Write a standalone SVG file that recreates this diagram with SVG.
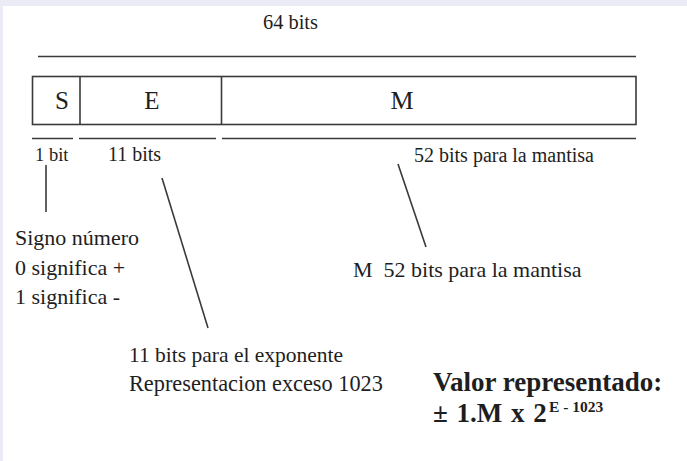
<svg xmlns="http://www.w3.org/2000/svg" width="687" height="461" viewBox="0 0 687 461">
<style>
.ln{stroke:#3a3a3a;stroke-width:1.6;fill:none}
</style>
<rect x="0" y="0" width="687" height="461" fill="#ffffff"/>
<rect x="0" y="0" width="687" height="6" fill="#ebebf5"/>
<rect x="0" y="0" width="3" height="461" fill="#ebebf5"/>
<g id="title"><text x="263" y="29" font-family="'Liberation Serif'" font-size="20.4" fill="#1e1e1e">64 bits</text></g>
<g id="word">
<rect class="ln" x="32.5" y="76.5" width="603.5" height="48"/>
<line class="ln" x1="80" y1="76.5" x2="80" y2="124.5"/>
<line class="ln" x1="221.5" y1="76.5" x2="221.5" y2="124.5"/>
</g>
<g id="field-S"><text x="62" y="108.5" font-family="'Liberation Serif'" font-size="25" fill="#1e1e1e" text-anchor="middle">S</text></g>
<g id="field-E"><text x="152" y="108.5" font-family="'Liberation Serif'" font-size="25" fill="#1e1e1e" text-anchor="middle">E</text></g>
<g id="field-M"><text x="402" y="108.5" font-family="'Liberation Serif'" font-size="26" fill="#1e1e1e" text-anchor="middle">M</text></g>
<g id="connectors">
<line class="ln" x1="38" y1="56.5" x2="636" y2="56.5"/>
<line class="ln" x1="32" y1="138.5" x2="73" y2="138.5"/>
<line class="ln" x1="79" y1="138.5" x2="216" y2="138.5"/>
<line class="ln" x1="222" y1="138.5" x2="636" y2="138.5"/>
<line class="ln" x1="46" y1="165" x2="46" y2="212"/>
<line class="ln" x1="162" y1="178" x2="208" y2="328"/>
<line class="ln" x1="398" y1="164" x2="426" y2="247"/>
</g>
<g id="lbl-1bit"><text x="35" y="161" font-family="'Liberation Serif'" font-size="18.5" fill="#1e1e1e">1 bit</text></g>
<g id="lbl-11bits"><text x="108" y="161" font-family="'Liberation Serif'" font-size="20" fill="#1e1e1e">11 bits</text></g>
<g id="lbl-52bits"><text x="414" y="161.5" font-family="'Liberation Serif'" font-size="20" fill="#1e1e1e">52 bits para la mantisa</text></g>
<g id="sign-desc">
<text x="15" y="245" font-family="'Liberation Serif'" font-size="22" fill="#1e1e1e">Signo número</text>
<text x="15" y="275" font-family="'Liberation Serif'" font-size="22" fill="#1e1e1e">0 significa +</text>
<text x="15" y="304" font-family="'Liberation Serif'" font-size="22" fill="#1e1e1e">1 significa -</text>
</g>
<g id="mant-desc"><text x="353" y="277" font-family="'Liberation Serif'" font-size="22" fill="#1e1e1e" xml:space="preserve">M  52 bits para la mantisa</text></g>
<g id="exp-desc">
<text x="129" y="362" font-family="'Liberation Serif'" font-size="21.5" fill="#1e1e1e">11 bits para el exponente</text>
<text x="129" y="391" font-family="'Liberation Serif'" font-size="22.3" fill="#1e1e1e">Representacion exceso 1023</text>
</g>
<g id="value">
<text x="433" y="391" font-family="'Liberation Serif'" font-weight="bold" font-size="27" fill="#1e1e1e">Valor representado:</text>
<text x="433" y="422" font-family="'Liberation Serif'" font-weight="bold" font-size="27" fill="#1e1e1e" word-spacing="2">± 1.M x 2</text>
<text x="549" y="412" font-family="'Liberation Serif'" font-weight="bold" font-size="15.5" fill="#1e1e1e">E - 1023</text>
</g>
</svg>
